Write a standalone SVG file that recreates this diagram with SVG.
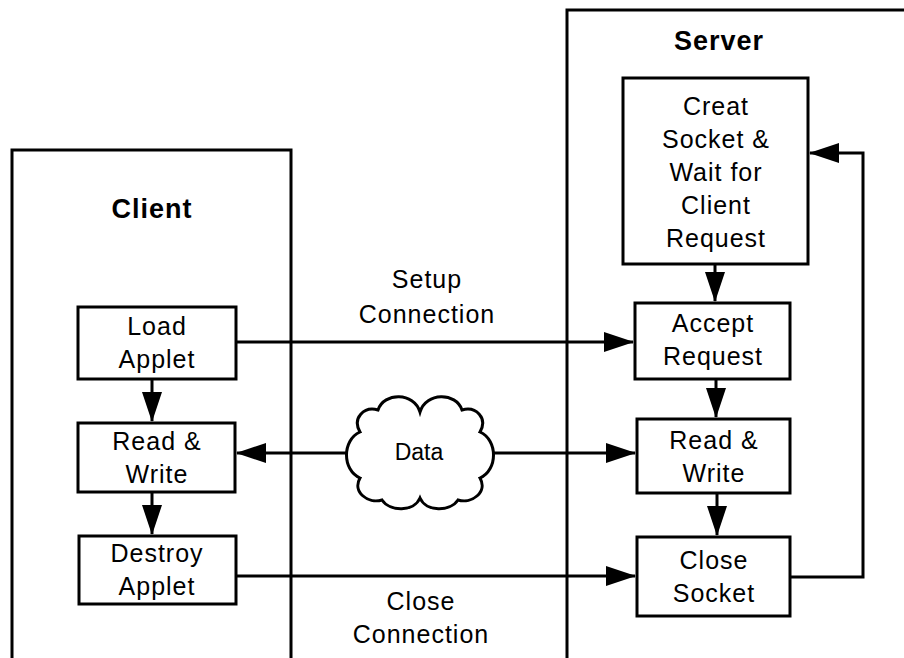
<svg xmlns="http://www.w3.org/2000/svg" width="904" height="658" viewBox="0 0 904 658">
  <style>
    .frame { fill: none; stroke: #000; stroke-width: 3; }
    .box { fill: #fff; stroke: #000; stroke-width: 3; }
    .link { fill: none; stroke: #000; stroke-width: 3; }
    .title { font-family: "Liberation Sans", Arial, sans-serif; font-weight: bold; font-size: 27px; letter-spacing: 1px; text-anchor: middle; fill: #000; }
    .label { font-family: "Liberation Sans", Arial, sans-serif; font-size: 25px; letter-spacing: 1px; text-anchor: middle; fill: #000; }
    .small { font-family: "Liberation Sans", Arial, sans-serif; font-size: 23px; text-anchor: middle; fill: #000; }
  </style>
  <defs>
    <marker id="arrow" markerUnits="userSpaceOnUse" markerWidth="30" markerHeight="20" refX="29" refY="10" orient="auto">
      <path d="M0,0 L30,10 L0,20 Z" fill="#000"/>
    </marker>
  </defs>

  <rect width="904" height="658" fill="#fff"/>

  <!-- Client and server frames (open at the bottom / right) -->
  <g id="client-frame">
    <path class="frame" d="M12,658 V150 H291 V658"/>
    <text class="title" x="152" y="218">Client</text>
  </g>
  <g id="server-frame">
    <path class="frame" d="M567,658 V10 H904"/>
    <text class="title" x="719" y="50">Server</text>
  </g>

  <!-- Connectors -->
  <g id="connectors">
    <!-- client flow -->
    <path class="link" d="M152,379 V421" marker-end="url(#arrow)"/>
    <path class="link" d="M152,492 V534" marker-end="url(#arrow)"/>
    <!-- server flow -->
    <path class="link" d="M715,264 V301" marker-end="url(#arrow)"/>
    <path class="link" d="M716,379 V417" marker-end="url(#arrow)"/>
    <path class="link" d="M717,493 V535" marker-end="url(#arrow)"/>
    <!-- loop back to socket creation -->
    <path class="link" d="M790,577 H863 V153 H810" marker-end="url(#arrow)"/>
    <!-- setup connection -->
    <path class="link" d="M236,342 H633" marker-end="url(#arrow)"/>
    <!-- data exchange -->
    <path class="link" d="M347,453 H237" marker-end="url(#arrow)"/>
    <path class="link" d="M493,453 H635" marker-end="url(#arrow)"/>
    <!-- close connection -->
    <path class="link" d="M236,576 H635" marker-end="url(#arrow)"/>
    <text class="label" x="427" y="288">Setup</text>
    <text class="label" x="427" y="323">Connection</text>
    <text class="label" x="421" y="610">Close</text>
    <text class="label" x="421" y="643">Connection</text>
  </g>

  <!-- Client nodes -->
  <g id="load-applet">
    <rect class="box" x="78" y="307" width="158" height="72"/>
    <text class="label" x="157" y="335">Load</text>
    <text class="label" x="157" y="368">Applet</text>
  </g>
  <g id="client-read-write">
    <rect class="box" x="78" y="423" width="157" height="69"/>
    <text class="label" x="157" y="450">Read &amp;</text>
    <text class="label" x="157" y="483">Write</text>
  </g>
  <g id="destroy-applet">
    <rect class="box" x="79" y="536" width="157" height="68"/>
    <text class="label" x="157" y="562">Destroy</text>
    <text class="label" x="157" y="595">Applet</text>
  </g>

  <!-- Data cloud -->
  <g id="data-cloud">
    <path class="box" d="M360,432 C352,418 364,406 378,410 C384,392 414,392 420,412 C426,392 456,392 462,410 C476,406 488,418 480,432 C498,440 498,470 480,478 C488,492 472,504 458,500 C450,512 426,512 420,498 C414,512 390,512 382,500 C368,504 352,492 360,478 C342,470 342,440 360,432 Z"/>
    <text class="small" x="419" y="460">Data</text>
  </g>

  <!-- Server nodes -->
  <g id="create-socket">
    <rect class="box" x="623" y="78" width="185" height="186"/>
    <text class="label" x="716" y="115">Creat</text>
    <text class="label" x="716" y="148">Socket &amp;</text>
    <text class="label" x="716" y="181">Wait for</text>
    <text class="label" x="716" y="214">Client</text>
    <text class="label" x="716" y="247">Request</text>
  </g>
  <g id="accept-request">
    <rect class="box" x="635" y="303" width="155" height="76"/>
    <text class="label" x="713" y="332">Accept</text>
    <text class="label" x="713" y="365">Request</text>
  </g>
  <g id="server-read-write">
    <rect class="box" x="637" y="419" width="153" height="74"/>
    <text class="label" x="714" y="449">Read &amp;</text>
    <text class="label" x="714" y="482">Write</text>
  </g>
  <g id="close-socket">
    <rect class="box" x="637" y="537" width="153" height="79"/>
    <text class="label" x="714" y="569">Close</text>
    <text class="label" x="714" y="602">Socket</text>
  </g>
</svg>
